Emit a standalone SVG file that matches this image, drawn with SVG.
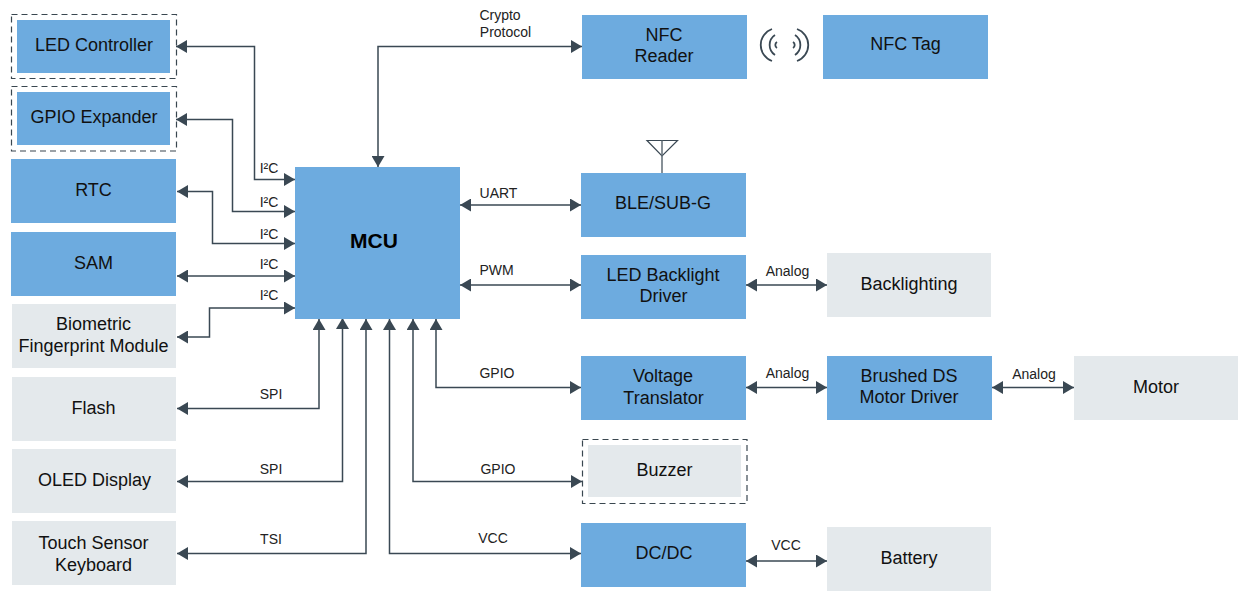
<svg xmlns="http://www.w3.org/2000/svg" width="1238" height="593" viewBox="0 0 1238 593">
<style>
text{font-family:"Liberation Sans",Arial,sans-serif;fill:#111;text-anchor:middle}
.n{font-size:18px}
.l{font-size:14px;fill:#222}
.b{fill:#6dabdf}
.g{fill:#e4e9ec}
.d{fill:none;stroke:#3a4750;stroke-width:1.2;stroke-dasharray:6 4}
.c{fill:none;stroke:#3a4853;stroke-width:1.5}
.i{fill:none;stroke:#3a4853;stroke-width:1.8}
</style>
<defs>
<marker id="a" markerUnits="userSpaceOnUse" markerWidth="12" markerHeight="13" refX="11" refY="6.5" orient="auto-start-reverse"><path d="M0 0L11 6.5L0 13Z" fill="#3a4853"/></marker>
</defs>
<rect width="1238" height="593" fill="#fff"/>
<g id="connectors" class="conn">
<path class="c" marker-start="url(#a)" marker-end="url(#a)" d="M176 46.500H254.500V179.500H295"/>
<path class="c" marker-start="url(#a)" marker-end="url(#a)" d="M176 119.500H232.500V211.500H295"/>
<path class="c" marker-start="url(#a)" marker-end="url(#a)" d="M177 191.500H212.500V243.500H295"/>
<path class="c" marker-start="url(#a)" marker-end="url(#a)" d="M177 276H295"/>
<path class="c" marker-start="url(#a)" marker-end="url(#a)" d="M177 337H209.500V308H295"/>
<path class="c" marker-start="url(#a)" marker-end="url(#a)" d="M177 408.500H319V319"/>
<path class="c" marker-start="url(#a)" marker-end="url(#a)" d="M177 481.500H342.500V318"/>
<path class="c" marker-start="url(#a)" marker-end="url(#a)" d="M177 553.500H366V319"/>
<path class="c" marker-start="url(#a)" marker-end="url(#a)" d="M389.500 319V553.500H581"/>
<path class="c" marker-start="url(#a)" marker-end="url(#a)" d="M413 319V481.500H582"/>
<path class="c" marker-start="url(#a)" marker-end="url(#a)" d="M436 319V387.500H581"/>
<path class="c" marker-start="url(#a)" marker-end="url(#a)" d="M378 167V46.500H582"/>
<path class="c" marker-start="url(#a)" marker-end="url(#a)" d="M460 205H581"/>
<path class="c" marker-start="url(#a)" marker-end="url(#a)" d="M460 285H581"/>
<path class="c" marker-start="url(#a)" marker-end="url(#a)" d="M746 285H827"/>
<path class="c" marker-start="url(#a)" marker-end="url(#a)" d="M746 387.500H827"/>
<path class="c" marker-start="url(#a)" marker-end="url(#a)" d="M992 387.500H1074"/>
<path class="c" marker-start="url(#a)" marker-end="url(#a)" d="M746 561H827"/>
</g>
<g id="connector-labels">
<text class="l" x="269" y="173">I²C</text>
<text class="l" x="269" y="207">I²C</text>
<text class="l" x="269" y="239">I²C</text>
<text class="l" x="269" y="269">I²C</text>
<text class="l" x="269" y="300">I²C</text>
<text class="l" x="271" y="399">SPI</text>
<text class="l" x="271" y="474">SPI</text>
<text class="l" x="271" y="544">TSI</text>
<text class="l" x="493" y="543">VCC</text>
<text class="l" x="498" y="474">GPIO</text>
<text class="l" x="497" y="378">GPIO</text>
<text class="l" x="496.500" y="275">PWM</text>
<text class="l" x="498.500" y="198">UART</text>
<text class="l" x="500" y="20">Crypto</text>
<text class="l" x="505.500" y="37">Protocol</text>
<text class="l" x="787.500" y="276">Analog</text>
<text class="l" x="787.500" y="378">Analog</text>
<text class="l" x="1034" y="379">Analog</text>
<text class="l" x="786" y="550">VCC</text>
</g>
<g id="led-controller"><rect class="d" x="11.500" y="14.500" width="165" height="64"/><rect class="b" x="17" y="20" width="153" height="53"/><text class="n" x="94" y="51">LED Controller</text></g>
<g id="gpio-expander"><rect class="d" x="11.500" y="86.500" width="165" height="64.500"/><rect class="b" x="17" y="92" width="153" height="53"/><text class="n" x="94" y="123">GPIO Expander</text></g>
<g id="rtc"><rect class="b" x="11" y="159" width="165" height="64"/><text class="n" x="93.500" y="196">RTC</text></g>
<g id="sam"><rect class="b" x="11" y="232" width="165" height="64"/><text class="n" x="93.500" y="269">SAM</text></g>
<g id="biometric"><rect class="g" x="12" y="304" width="164" height="64"/><text class="n" x="93.500" y="330">Biometric</text><text class="n" x="93.500" y="352">Fingerprint Module</text></g>
<g id="flash"><rect class="g" x="12" y="377" width="164" height="64"/><text class="n" x="93.500" y="414">Flash</text></g>
<g id="oled"><rect class="g" x="12" y="449" width="164" height="64"/><text class="n" x="94.500" y="486">OLED Display</text></g>
<g id="touch"><rect class="g" x="12" y="521" width="164" height="64"/><text class="n" x="93.500" y="549">Touch Sensor</text><text class="n" x="93.500" y="571">Keyboard</text></g>
<g id="mcu"><rect class="b" x="295" y="167" width="165" height="152"/><text x="374" y="248" font-size="21" font-weight="bold" style="fill:#000">MCU</text></g>
<g id="nfc-reader"><rect class="b" x="582" y="15" width="165" height="64"/><text class="n" x="664" y="41">NFC</text><text class="n" x="664" y="62">Reader</text></g>
<g id="nfc-waves">
<path class="i" d="M772 29A17 17 0 0 0 772 61M775 35A12 12 0 0 0 775 55M777 42A3.500 3.500 0 0 0 777 48"/>
<path class="i" d="M797 29A17 17 0 0 1 797 61M795 35A12 12 0 0 1 795 55M793 42A3.500 3.500 0 0 1 793 48"/>
</g>
<g id="nfc-tag"><rect class="b" x="823" y="15" width="165" height="64"/><text class="n" x="905.500" y="50">NFC Tag</text></g>
<g id="antenna"><path d="M647 140.500H677.500L662 156Z" fill="none" stroke="#3a4853" stroke-width="1.200"/><path d="M662 140.500V173" stroke="#5f6b74" stroke-width="1.500" fill="none"/></g>
<g id="ble"><rect class="b" x="581" y="173" width="165" height="64"/><text class="n" x="663" y="209">BLE/SUB-G</text></g>
<g id="led-backlight"><rect class="b" x="581" y="255" width="165" height="64"/><text class="n" x="663" y="281">LED Backlight</text><text class="n" x="663.500" y="302">Driver</text></g>
<g id="backlighting"><rect class="g" x="827" y="253" width="164" height="64"/><text class="n" x="909" y="290">Backlighting</text></g>
<g id="voltage-translator"><rect class="b" x="581" y="356" width="165" height="64"/><text class="n" x="663" y="382">Voltage</text><text class="n" x="663.500" y="404">Translator</text></g>
<g id="motor-driver"><rect class="b" x="827" y="356" width="165" height="64"/><text class="n" x="909" y="382">Brushed DS</text><text class="n" x="909" y="403">Motor Driver</text></g>
<g id="motor"><rect class="g" x="1074" y="356" width="164" height="64"/><text class="n" x="1156" y="393">Motor</text></g>
<g id="buzzer"><rect class="d" x="582.500" y="439.500" width="164.500" height="64"/><rect class="g" x="588" y="445" width="153" height="52"/><text class="n" x="664.500" y="476">Buzzer</text></g>
<g id="dcdc"><rect class="b" x="581" y="523" width="165" height="64"/><text class="n" x="664" y="559">DC/DC</text></g>
<g id="battery"><rect class="g" x="827" y="527" width="164" height="64"/><text class="n" x="909" y="564">Battery</text></g>
</svg>
